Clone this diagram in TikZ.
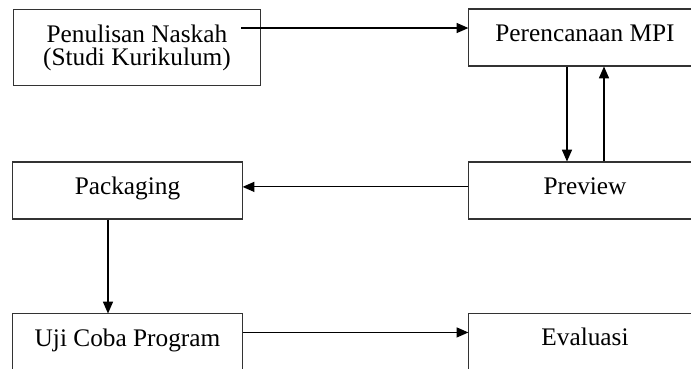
\documentclass[tikz,border=0pt]{standalone}
\usepackage{fontspec}
\setmainfont{Liberation Serif}
\usetikzlibrary{arrows.meta,positioning}

\begin{document}
\begin{tikzpicture}[scale=1,
  box/.style={draw=black!80,line width=0.5pt,minimum width=3.82cm,minimum height=0.95cm,inner sep=0pt,font=\fontsize{12}{11}\selectfont,align=center},
  oneline/.style={box,text height=6pt,text depth=2.6pt},
  arr/.style={-{Triangle[length=5.6pt,width=4.8pt]},line width=0.5pt}]
\useasboundingbox (0,0) rectangle (11.517,6.15);
\clip (0,0) rectangle (11.517,6.15);
\node[box,minimum width=4.13cm,minimum height=1.28cm] (naskah) at (2.283,5.358) {Penulisan Naskah\\(Studi Kurikulum)};
\node[oneline,minimum width=3.87cm] (mpi) at (9.75,5.525) {Perencanaan MPI};
\node[oneline,minimum width=3.87cm] (preview) at (9.75,2.975) {Preview};
\node[oneline] (packaging) at (2.125,2.975) {Packaging};
\node[oneline] (uji) at (2.125,0.442) {Uji Coba Program};
\node[oneline,minimum width=3.87cm] (evaluasi) at (9.75,0.45) {Evaluasi};
\coordinate (s1) at (4.017,5.683);
\draw[arr] (s1) -- (s1 -| mpi.west);
\draw[arr] ([xshift=-0.3cm]mpi.south) -- ([xshift=-0.3cm]preview.north);
\draw[arr] ([xshift=0.317cm]preview.north) -- ([xshift=0.317cm]mpi.south);
\draw[arr] ([yshift=0.06cm]preview.west) -- ([yshift=0.06cm]packaging.east);
\draw[arr] ([xshift=-0.325cm]packaging.south) -- ([xshift=-0.325cm]uji.north);
\draw[arr] ([yshift=-0.317cm]uji.north east) -- ([yshift=-0.317cm]uji.north east -| evaluasi.west);
\end{tikzpicture}
\end{document}
